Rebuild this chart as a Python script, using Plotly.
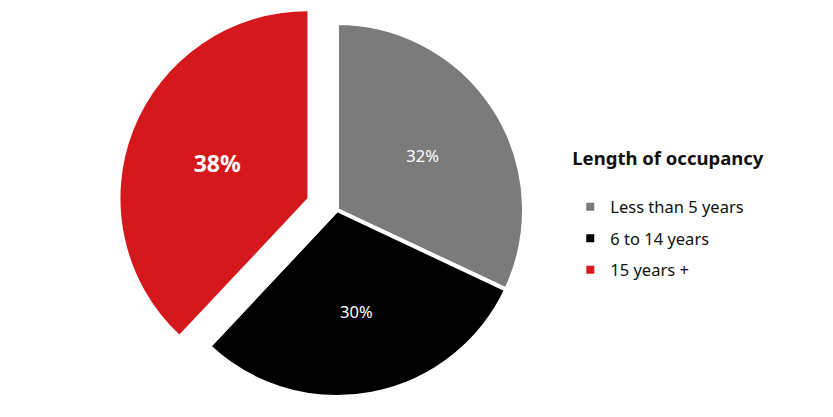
import math
import plotly.graph_objects as go

# ---- data ----
labels = ["Less than 5 years", "6 to 14 years", "15 years +"]
values = [32, 30, 38]
colors = ["#7b7b7b", "#000000", "#d5181b"]
pulled = [False, False, True]
legend_title = "Length of occupancy"

# ---- geometry / style ----
W, H = 833, 417
page_off = 8          # browser body margin
cx, cy, r = 337 - page_off, 210 - page_off, 187
pull = 0.17
font = "Noto Sans"

total = sum(values)
k = pulled.index(True)
start = sum(values[:k]) / total * 360
mid = math.radians(start + values[k] / total * 180)
ox = pull * r * math.sin(mid)
oy = -pull * r * math.cos(mid)


def domain(x0, y0):
    return dict(x=[(x0 - r) / W, (x0 + r) / W],
                y=[(H - y0 - r) / H, (H - y0 + r) / H])


pct = "%{percent:.0%}"
tmpl_main = [("" if p else pct) for p in pulled]
tmpl_pull = [("<b>" + pct + "</b>" if p else "") for p in pulled]
col_main = [("rgba(0,0,0,0)" if p else c) for c, p in zip(colors, pulled)]
col_pull = [(c if p else "rgba(0,0,0,0)") for c, p in zip(colors, pulled)]

fig = go.Figure()
fig.add_trace(go.Pie(
    labels=labels, values=values, sort=False, direction="clockwise", rotation=0,
    marker=dict(colors=col_main, line=dict(color="white", width=4)),
    texttemplate=tmpl_main, textposition="inside", insidetextorientation="horizontal",
    textfont=dict(color="white", size=16.5, family=font),
    domain=domain(cx, cy), showlegend=False, hoverinfo="skip",
))
fig.add_trace(go.Pie(
    labels=labels, values=values, sort=False, direction="clockwise", rotation=0,
    marker=dict(colors=col_pull, line=dict(color="rgba(0,0,0,0)", width=0)),
    texttemplate=tmpl_pull, textposition="inside", insidetextorientation="horizontal",
    textfont=dict(color="white", size=23, family=font),
    domain=domain(cx + ox, cy + oy), showlegend=False, hoverinfo="skip",
))

for i, (lab, c) in enumerate(zip(labels, colors)):
    fig.add_trace(go.Scatter(
        x=[None], y=[None], mode="markers", name=lab, legendgroup=f"g{i}",
        marker=dict(symbol="square", size=8, color=c), showlegend=True,
    ))

fig.update_layout(
    width=W, height=H,
    margin=dict(l=0, r=0, t=0, b=0),
    paper_bgcolor="white", plot_bgcolor="white",
    xaxis=dict(visible=False), yaxis=dict(visible=False),
    font=dict(family=font, color="#111111"),
    legend=dict(
        title=dict(text="<b>" + legend_title + "</b><br> ", font=dict(size=18.5, family=font, color="#111111")),
        font=dict(size=16.5, family=font, color="#111111"),
        x=0.675, xanchor="left", y=0.68, yanchor="top",
        traceorder="grouped", tracegroupgap=7, itemwidth=30,
        bgcolor="rgba(0,0,0,0)",
    ),
)

fig.write_html("out.html")
